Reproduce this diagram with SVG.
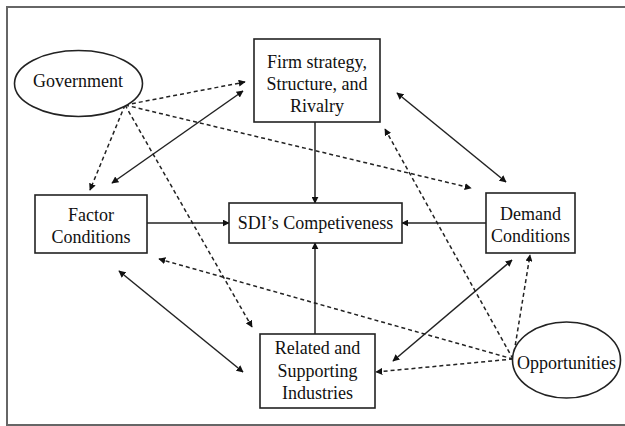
<svg xmlns="http://www.w3.org/2000/svg" width="625" height="426" viewBox="0 0 625 426">
<style>
.box{fill:#fff;stroke:#222;stroke-width:1.6}
.t{font-family:'Liberation Serif','Times New Roman',serif;font-size:18px;fill:#111;text-anchor:middle;dominant-baseline:central}
.s{fill:none;stroke:#222;stroke-width:1.5}
.d{fill:none;stroke:#222;stroke-width:1.5;stroke-dasharray:4 3}
</style>
<defs>
<marker id="ah" viewBox="0 0 10 10" refX="9" refY="5" markerWidth="7" markerHeight="7" markerUnits="userSpaceOnUse" orient="auto-start-reverse">
<path d="M0,0 L10,5 L0,10 z" fill="#111"/>
</marker>
</defs>
<rect x="0" y="0" width="625" height="426" fill="#fff"/>
<path d="M7,426 V7 H625 M7,425 H625" fill="none" stroke="#666" stroke-width="2"/>
<g id="connectors">
<line class="d" x1="125" y1="105" x2="245" y2="82" marker-end="url(#ah)"/>
<line class="d" x1="125" y1="105" x2="90" y2="190" marker-end="url(#ah)"/>
<line class="d" x1="125" y1="105" x2="252" y2="327" marker-end="url(#ah)"/>
<line class="d" x1="125" y1="105" x2="471" y2="188" marker-end="url(#ah)"/>
<line class="s" x1="112" y1="183" x2="243" y2="91" marker-start="url(#ah)" marker-end="url(#ah)"/>
<line class="s" x1="315" y1="122" x2="315" y2="203" marker-end="url(#ah)"/>
<line class="s" x1="397" y1="93" x2="506" y2="182" marker-start="url(#ah)" marker-end="url(#ah)"/>
<line class="s" x1="147" y1="223" x2="229" y2="223" marker-end="url(#ah)"/>
<line class="s" x1="486" y1="223" x2="402" y2="223" marker-end="url(#ah)"/>
<line class="s" x1="315" y1="334" x2="315" y2="243" marker-end="url(#ah)"/>
<line class="s" x1="119" y1="271" x2="243" y2="372" marker-start="url(#ah)" marker-end="url(#ah)"/>
<line class="s" x1="393" y1="361" x2="512" y2="260" marker-start="url(#ah)" marker-end="url(#ah)"/>
<line class="d" x1="513" y1="359" x2="159" y2="259" marker-end="url(#ah)"/>
<line class="d" x1="513" y1="359" x2="376" y2="372" marker-end="url(#ah)"/>
<line class="d" x1="513" y1="359" x2="530" y2="255" marker-end="url(#ah)"/>
<line class="d" x1="513" y1="359" x2="385" y2="129" marker-end="url(#ah)"/>
</g>
<g id="government">
<ellipse class="box" cx="78.5" cy="83.5" rx="64" ry="33"/>
<text class="t" x="78" y="81">Government</text>
</g>
<g id="firm">
<rect class="box" x="254" y="39" width="126" height="83"/>
<text class="t" x="317" y="62">Firm strategy,</text>
<text class="t" x="317" y="84">Structure, and</text>
<text class="t" x="317" y="106">Rivalry</text>
</g>
<g id="factor">
<rect class="box" x="35" y="195" width="112" height="58"/>
<text class="t" x="91" y="215">Factor</text>
<text class="t" x="91" y="237">Conditions</text>
</g>
<g id="sdi">
<rect class="box" x="229" y="203" width="173" height="40"/>
<text class="t" x="315.5" y="223">SDI’s Competiveness</text>
</g>
<g id="demand">
<rect class="box" x="486" y="193" width="89" height="60"/>
<text class="t" x="530.5" y="214">Demand</text>
<text class="t" x="530.5" y="236">Conditions</text>
</g>
<g id="related">
<rect class="box" x="260" y="334" width="115" height="74"/>
<text class="t" x="317.5" y="348">Related and</text>
<text class="t" x="317.5" y="371">Supporting</text>
<text class="t" x="317.5" y="393">Industries</text>
</g>
<g id="opportunities">
<ellipse class="box" cx="566.5" cy="360" rx="54" ry="38"/>
<text class="t" x="566.5" y="363">Opportunities</text>
</g>
</svg>
